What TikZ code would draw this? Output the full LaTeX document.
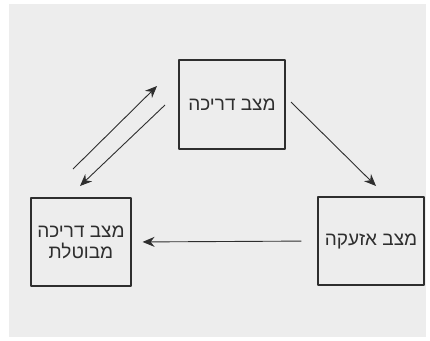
\documentclass[tikz,border=0pt]{standalone}
\usepackage{fontspec}
\newfontfamily\hebfont[Script=Hebrew]{Liberation Sans}
\TeXXeTstate=1
\usetikzlibrary{arrows.meta}
\definecolor{bggray}{HTML}{EDEDED}
\definecolor{ink}{HTML}{2E2E2E}
\tikzset{state/.style={draw=ink,line width=1.1pt,minimum width=106pt,minimum height=89pt,inner sep=0pt,align=center,text=ink}}
\begin{document}
\begin{tikzpicture}[x=1pt,y=-1pt,line join=round,font=\hebfont\fontsize{19}{21}\selectfont,>={Stealth[length=12pt,width=10pt]}]
	\useasboundingbox (0,0) rectangle (430,340);
	\fill[bggray] (9,4) rectangle (426,337);
	% states
	\node[state] (drika) at (232,104.5) {\beginR מצב דריכה\endR};
	\node[state,minimum width=100pt,minimum height=88pt] (butla) at (81,242) {\beginR מצב דריכה\endR\\\beginR מבוטלת\endR};
	\node[state,minimum height=88pt] (azaka) at (371,241) {\beginR מצב אזעקה\endR};
	% arrow ends
	\coordinate (up1) at (73,169);	\coordinate (up2) at (157,86);
	\coordinate (dn1) at (165,105);	\coordinate (dn2) at (80,186);
	\coordinate (dg1) at (291,102);	\coordinate (dg2) at (376,186);
	\draw[->,ink,line width=0.9pt](up1)--(up2);
	\draw[->,ink,line width=0.9pt](dn1)--(dn2);
	\draw[->,ink,line width=0.9pt](dg1)--(dg2);
	\draw[->,ink,line width=0.9pt,shorten <=16pt,shorten >=11pt](azaka.west)--(butla.east);
\end{tikzpicture}
\end{document}
